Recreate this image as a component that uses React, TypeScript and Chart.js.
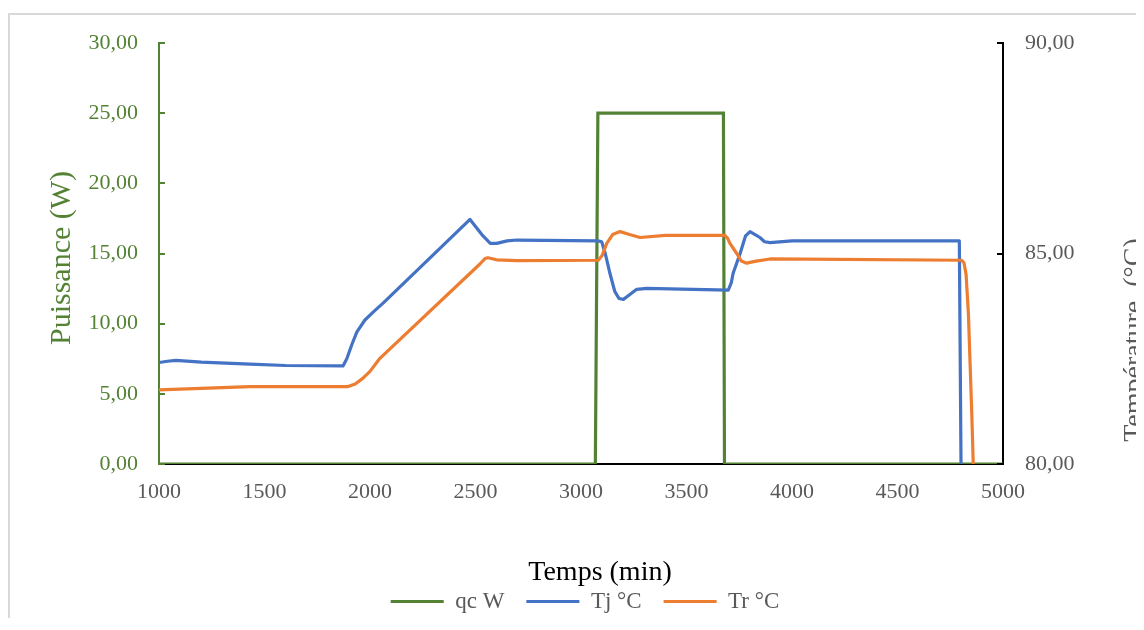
import React, { useEffect, useRef } from "react";
import { Chart, registerables } from "chart.js";

Chart.register(...registerables);

// ---- Data ----
const xTickStep = 500;
const xMin = 1000;
const xMax = 5000;

const qcTimes = [1000, 3068, 3080, 3675, 3680, 5000];
const qcValues = [0, 0, 25, 25, 0, 0];

const tjTimes = [1000, 1040, 1081, 1200, 1431, 1600, 1872, 1890, 1915, 1938, 1976, 2020, 2062, 2474, 2530, 2570, 2600, 2650, 2697, 3080, 3098, 3115, 3137, 3160, 3180, 3201, 3230, 3264, 3311, 3698, 3712, 3721, 3754, 3780, 3801, 3825, 3848, 3870, 3896, 4000, 4793, 4801];
const tjValues = [82.41, 82.44, 82.46, 82.42, 82.37, 82.34, 82.33, 82.5, 82.85, 83.14, 83.42, 83.63, 83.82, 85.81, 85.45, 85.24, 85.24, 85.3, 85.32, 85.3, 85.28, 85.0, 84.53, 84.1, 83.93, 83.91, 84.02, 84.15, 84.17, 84.13, 84.3, 84.53, 85.0, 85.42, 85.52, 85.45, 85.38, 85.28, 85.26, 85.3, 85.3, 80];

const trTimes = [1000, 1100, 1431, 1896, 1930, 1967, 2000, 2047, 2521, 2545, 2559, 2600, 2697, 3082, 3100, 3122, 3150, 3185, 3230, 3280, 3400, 3682, 3695, 3706, 3738, 3760, 3785, 3830, 3896, 4804, 4815, 4825, 4836, 4852, 4859];
const trValues = [81.76, 81.78, 81.84, 81.84, 81.9, 82.04, 82.2, 82.51, 84.75, 84.88, 84.9, 84.85, 84.83, 84.84, 84.95, 85.24, 85.45, 85.52, 85.45, 85.38, 85.43, 85.43, 85.36, 85.24, 85.0, 84.82, 84.77, 84.82, 84.87, 84.84, 84.78, 84.5, 83.58, 81.2, 80];

const seriesLabels = ["qc W", "Tj °C", "Tr °C"];
const leftTitle = "Puissance (W)";
const rightTitle = "Température  (°C)";
const xTitle = "Temps (min)";

const GREEN = "#548235";
const BLUE = "#4472C4";
const ORANGE = "#ED7D31";
const GRAY = "#595959";
const FONT = '"Liberation Serif", "Times New Roman", serif';

const fmt2 = (v: number) => v.toFixed(2).replace(".", ",");

export default function App() {
  const ref = useRef<HTMLCanvasElement>(null);

  useEffect(() => {
    if (!ref.current) return;

    const tickMarks = {
      id: "tickMarks",
      afterDraw(chart: any) {
        const { ctx, chartArea, scales } = chart;
        ctx.save();
        ctx.lineWidth = 2;
        ctx.strokeStyle = GREEN;
        for (const t of scales.y.ticks) {
          const y = Math.round(scales.y.getPixelForValue(t.value));
          ctx.beginPath();
          ctx.moveTo(chartArea.left, y);
          ctx.lineTo(chartArea.left + 6, y);
          ctx.stroke();
        }
        ctx.strokeStyle = "#000000";
        for (const t of scales.y1.ticks) {
          const y = Math.round(scales.y1.getPixelForValue(t.value));
          ctx.beginPath();
          ctx.moveTo(chartArea.right - 6, y);
          ctx.lineTo(chartArea.right, y);
          ctx.stroke();
        }
        ctx.restore();
      },
    };

    const titles = {
      id: "titles",
      afterDraw(chart: any) {
        const { ctx } = chart;
        ctx.save();
        ctx.textAlign = "center";
        ctx.textBaseline = "alphabetic";
        // left axis title
        ctx.save();
        ctx.font = `30px ${FONT}`;
        ctx.fillStyle = GREEN;
        ctx.translate(60, 243);
        ctx.rotate(-Math.PI / 2);
        ctx.fillText(leftTitle, 0, 0);
        ctx.restore();
        // right axis title
        ctx.save();
        ctx.font = `28px ${FONT}`;
        ctx.fillStyle = GRAY;
        ctx.translate(1132, 325);
        ctx.rotate(-Math.PI / 2);
        ctx.fillText(rightTitle, 0, 0);
        ctx.restore();
        // x axis title
        ctx.font = `28px ${FONT}`;
        ctx.fillStyle = "#000000";
        ctx.fillText(xTitle, 590, 565);
        ctx.restore();
      },
    };

    const chart = new Chart(ref.current, {
      type: "line",
      data: {
        datasets: [
          {
            label: seriesLabels[0],
            data: qcTimes.map((x, i) => ({ x, y: qcValues[i] })),
            borderColor: GREEN,
            backgroundColor: GREEN,
            borderWidth: 3.2,
            pointRadius: 0,
            tension: 0,
            yAxisID: "y",
            order: 2,
          },
          {
            label: seriesLabels[1],
            data: tjTimes.map((x, i) => ({ x, y: tjValues[i] })),
            borderColor: BLUE,
            backgroundColor: BLUE,
            borderWidth: 3.2,
            pointRadius: 0,
            tension: 0,
            borderJoinStyle: "round",
            yAxisID: "y1",
            order: 1,
          },
          {
            label: seriesLabels[2],
            data: trTimes.map((x, i) => ({ x, y: trValues[i] })),
            borderColor: ORANGE,
            backgroundColor: ORANGE,
            borderWidth: 3.2,
            pointRadius: 0,
            tension: 0,
            borderJoinStyle: "round",
            yAxisID: "y1",
            order: 0,
          },
        ],
      },
      options: {
        responsive: false,
        animation: false,
        layout: { padding: { top: 28, left: 16, right: 0, bottom: 0 } },
        plugins: {
          tooltip: { enabled: false },
          title: { display: false },
          legend: {
            position: "bottom",
            labels: {
              boxWidth: 53,
              boxHeight: 3,
              padding: 22,
              color: GRAY,
              font: { family: FONT, size: 23 },
              sort: (a: any, b: any) => a.datasetIndex - b.datasetIndex,
              generateLabels: (c: any) =>
                (Chart.defaults.plugins.legend.labels.generateLabels as any)(c).map((l: any) => ({
                  ...l,
                  fillStyle: l.strokeStyle,
                  lineWidth: 0,
                })),
            },
          },
        },
        scales: {
          x: {
            type: "linear",
            min: xMin,
            max: xMax,
            grid: { display: false, drawTicks: false },
            border: { display: true, color: "#000000", width: 2 },
            ticks: {
              stepSize: xTickStep,
              color: GRAY,
              font: { family: FONT, size: 22 },
              padding: 15,
              maxRotation: 0,
              callback: (v: any) => String(v),
            },
            afterFit: (s: any) => {
              s.height = 104;
            },
          },
          y: {
            type: "linear",
            position: "left",
            min: 0,
            max: 30,
            grid: { display: false, drawTicks: false },
            border: { display: true, color: GREEN, width: 2 },
            ticks: {
              stepSize: 5,
              color: GREEN,
              font: { family: FONT, size: 22 },
              padding: 21,
              callback: (v: any) => fmt2(Number(v)),
            },
            afterFit: (s: any) => {
              s.width = 133;
              s.paddingTop = 0;
              s.paddingBottom = 0;
            },
          },
          y1: {
            type: "linear",
            position: "right",
            min: 80,
            max: 90,
            grid: { display: false, drawTicks: false },
            border: { display: true, color: "#000000", width: 2 },
            ticks: {
              stepSize: 5,
              color: GRAY,
              font: { family: FONT, size: 22 },
              padding: 22,
              callback: (v: any) => fmt2(Number(v)),
            },
            afterFit: (s: any) => {
              s.width = 141;
              s.paddingTop = 0;
              s.paddingBottom = 0;
            },
          },
        },
      },
      plugins: [tickMarks, titles],
    } as any);

    return () => chart.destroy();
  }, []);

  return (
    <div
      style={{
        position: "relative",
        top: 5,
        width: 1136,
        height: 610,
        boxSizing: "border-box",
        borderLeft: "2px solid #d9d9d9",
        borderTop: "2px solid #d9d9d9",
        background: "#ffffff",
      }}
    >
      <canvas ref={ref} width={1134} height={608} style={{ display: "block" }} />
    </div>
  );
}
